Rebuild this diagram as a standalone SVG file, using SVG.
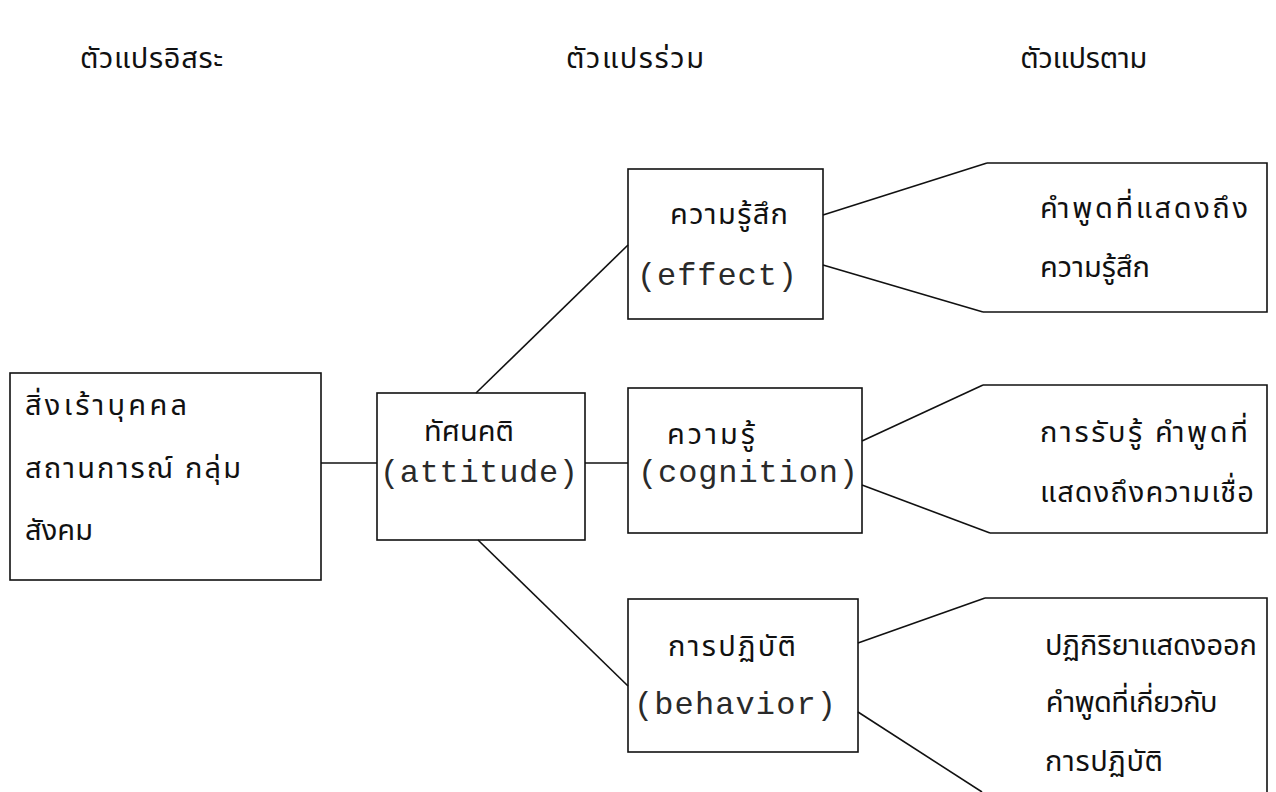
<svg xmlns="http://www.w3.org/2000/svg" width="1276" height="792" viewBox="0 0 1276 792">
<style>
.ln{stroke:#111;stroke-width:1.6;fill:none}
.th{font-family:"Noto Sans Thai","Noto Sans","DejaVu Sans",sans-serif;font-size:29px;fill:#111}
.en{font-family:"Liberation Mono","DejaVu Sans Mono",monospace;font-size:32px;fill:#2a2a2a}
</style>
<rect width="1276" height="792" fill="#fff"/>
<g id="headers">
<text class="th" x="80" y="68" textLength="143" lengthAdjust="spacing">ตัวแปรอิสระ</text>
<text class="th" x="566" y="68" textLength="138" lengthAdjust="spacing">ตัวแปรร่วม</text>
<text class="th" x="1020" y="68" textLength="127" lengthAdjust="spacing">ตัวแปรตาม</text>
</g>
<g id="connectors">
<line class="ln" x1="321" y1="463" x2="377" y2="463"/>
<line class="ln" x1="585" y1="463" x2="628" y2="463"/>
<line class="ln" x1="476" y1="393" x2="628" y2="245"/>
<line class="ln" x1="478" y1="540" x2="628" y2="686"/>
<line class="ln" x1="823" y1="215" x2="987" y2="163"/>
<line class="ln" x1="823" y1="265" x2="983" y2="312"/>
<line class="ln" x1="862" y1="441" x2="983" y2="385"/>
<line class="ln" x1="862" y1="485" x2="990" y2="533"/>
<line class="ln" x1="858" y1="643" x2="985" y2="598"/>
<line class="ln" x1="858" y1="712" x2="982" y2="792"/>
</g>
<g id="stimulus">
<rect class="ln" x="10" y="373" width="311" height="207"/>
<text class="th" x="25" y="415" textLength="162" lengthAdjust="spacing">สิ่งเร้าบุคคล</text>
<text class="th" x="25" y="478" textLength="216" lengthAdjust="spacing">สถานการณ์  กลุ่ม</text>
<text class="th" x="25" y="540" textLength="68" lengthAdjust="spacing">สังคม</text>
</g>
<g id="attitude">
<rect class="ln" x="377" y="393" width="208" height="147"/>
<text class="th" x="469" y="441" text-anchor="middle">ทัศนคติ</text>
<text class="en" x="380" y="482" textLength="198" lengthAdjust="spacing">(attitude)</text>
</g>
<g id="affect">
<rect class="ln" x="628" y="169" width="195" height="150"/>
<text class="th" x="670" y="224" textLength="118" lengthAdjust="spacing">ความรู้สึก</text>
<text class="en" x="637" y="285" textLength="160" lengthAdjust="spacing">(effect)</text>
</g>
<g id="cognition">
<rect class="ln" x="628" y="388" width="234" height="145"/>
<text class="th" x="667" y="444" textLength="88" lengthAdjust="spacing">ความรู้</text>
<text class="en" x="638" y="482" textLength="220" lengthAdjust="spacing">(cognition)</text>
</g>
<g id="behavior">
<rect class="ln" x="628" y="599" width="230" height="153"/>
<text class="th" x="668" y="656" textLength="128" lengthAdjust="spacing">การปฏิบัติ</text>
<text class="en" x="634" y="714" textLength="202" lengthAdjust="spacing">(behavior)</text>
</g>
<g id="out-affect">
<polyline class="ln" points="987,163 1267,163 1267,312 983,312"/>
<text class="th" x="1040" y="218" textLength="208" lengthAdjust="spacing">คำพูดที่แสดงถึง</text>
<text class="th" x="1040" y="277" textLength="110" lengthAdjust="spacing">ความรู้สึก</text>
</g>
<g id="out-cognition">
<polyline class="ln" points="983,385 1267,385 1267,533 990,533"/>
<text class="th" x="1040" y="442" textLength="208" lengthAdjust="spacing">การรับรู้ คำพูดที่</text>
<text class="th" x="1040" y="502" textLength="214" lengthAdjust="spacing">แสดงถึงความเชื่อ</text>
</g>
<g id="out-behavior">
<polyline class="ln" points="985,598 1267,598 1267,792"/>
<text class="th" x="1045" y="655" textLength="212" lengthAdjust="spacing">ปฏิกิริยาแสดงออก</text>
<text class="th" x="1045" y="712" textLength="172" lengthAdjust="spacing">คำพูดที่เกี่ยวกับ</text>
<text class="th" x="1045" y="771" textLength="118" lengthAdjust="spacing">การปฏิบัติ</text>
</g>
</svg>
